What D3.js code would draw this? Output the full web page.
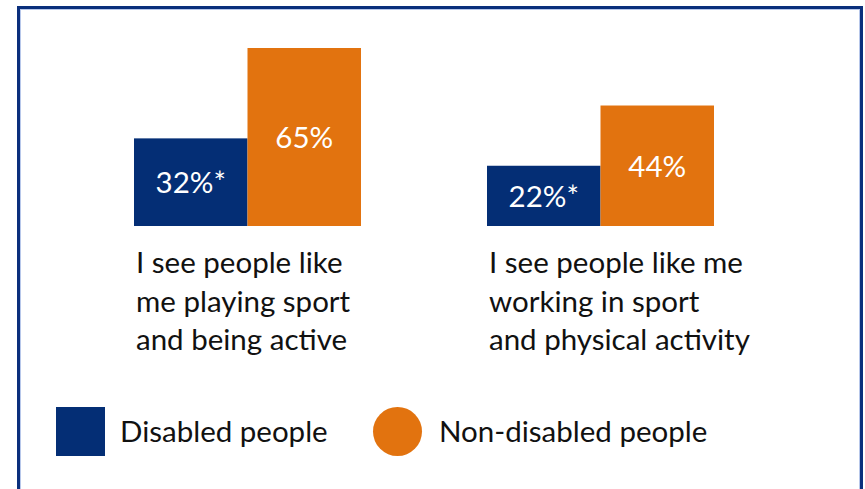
<!DOCTYPE html>
<html>
<head>
<meta charset="utf-8">
<script src="https://cdn.jsdelivr.net/npm/d3@7/dist/d3.min.js"></script>
<style>
  html, body { margin: 0; padding: 0; background: #fff; }
  svg { display: block; font-family: Lato, "Open Sans", sans-serif; }
</style>
</head>
<body>
<svg id="chart" width="865" height="489"></svg>
<script>
// Statement categories (each label broken into its display lines)
const categories = ["playing", "working"];
const categoryLines = [
  ["I see people like", "me playing sport", "and being active"],
  ["I see people like me", "working in sport", "and physical activity"]
];
// Series and their percentages
const series = ["Disabled people", "Non-disabled people"];
const disabledValues = [32, 22];
const nonDisabledValues = [65, 44];
const valueSuffix = ["*", ""];
const seriesColors = ["#042E75", "#E2730F"];

const fontSize = 29.5;
const svg = d3.select("#chart");

// Frame around the panel
svg.append("rect")
  .attr("x", 18.5).attr("y", 7.5)
  .attr("width", 843).attr("height", 520)
  .attr("fill", "none").attr("stroke", "#0A2F7C").attr("stroke-width", 3);
svg.append("rect")
  .attr("x", 20.5).attr("y", 9.5)
  .attr("width", 839).attr("height", 516)
  .attr("fill", "none").attr("stroke", "#B7C7EA").attr("stroke-width", 1);

const x0 = d3.scaleBand()
  .domain(categories)
  .range([134, 714])
  .paddingInner(126 / 353)
  .paddingOuter(0);

const x1 = d3.scaleBand()
  .domain(series)
  .range([0, x0.bandwidth()]);

const y = d3.scaleLinear()
  .domain([0, 65])
  .range([226, 48]);

const rows = categories.map((c, i) => ({
  cat: c,
  lines: categoryLines[i],
  bars: [
    { s: series[0], v: disabledValues[i], label: disabledValues[i] + "%" + valueSuffix[0], color: seriesColors[0] },
    { s: series[1], v: nonDisabledValues[i], label: nonDisabledValues[i] + "%" + valueSuffix[1], color: seriesColors[1] }
  ]
}));

const groups = svg.selectAll("g.group")
  .data(rows)
  .join("g")
  .attr("class", "group")
  .attr("transform", d => `translate(${x0(d.cat)},0)`);

const bars = groups.selectAll("g.bar")
  .data(d => d.bars)
  .join("g")
  .attr("class", "bar");

bars.append("rect")
  .attr("x", d => x1(d.s))
  .attr("y", d => y(d.v))
  .attr("width", x1.bandwidth())
  .attr("height", d => y(0) - y(d.v))
  .attr("fill", d => d.color);

bars.append("text")
  .attr("x", d => x1(d.s) + x1.bandwidth() / 2)
  .attr("y", d => (y(d.v) + y(0)) / 2 + 11)
  .attr("text-anchor", "middle")
  .attr("fill", "#fff")
  .attr("font-size", fontSize)
  .text(d => d.label);

// Category captions under the bars
groups.append("text")
  .attr("x", 2)
  .attr("y", 273)
  .attr("font-size", fontSize)
  .attr("fill", "#111")
  .selectAll("tspan")
  .data(d => d.lines)
  .join("tspan")
  .attr("x", 2)
  .attr("dy", (d, i) => i === 0 ? 0 : 38.5)
  .text(d => d);

// Legend
const legend = svg.append("g");
legend.append("rect")
  .attr("x", 56).attr("y", 407)
  .attr("width", 49).attr("height", 49)
  .attr("fill", seriesColors[0]);
legend.append("text")
  .attr("x", 120).attr("y", 442)
  .attr("font-size", fontSize).attr("fill", "#111")
  .text(series[0]);
legend.append("circle")
  .attr("cx", 397.5).attr("cy", 431.5).attr("r", 24.5)
  .attr("fill", seriesColors[1]);
legend.append("text")
  .attr("x", 439).attr("y", 442)
  .attr("font-size", fontSize).attr("fill", "#111")
  .text(series[1]);
</script>
</body>
</html>
